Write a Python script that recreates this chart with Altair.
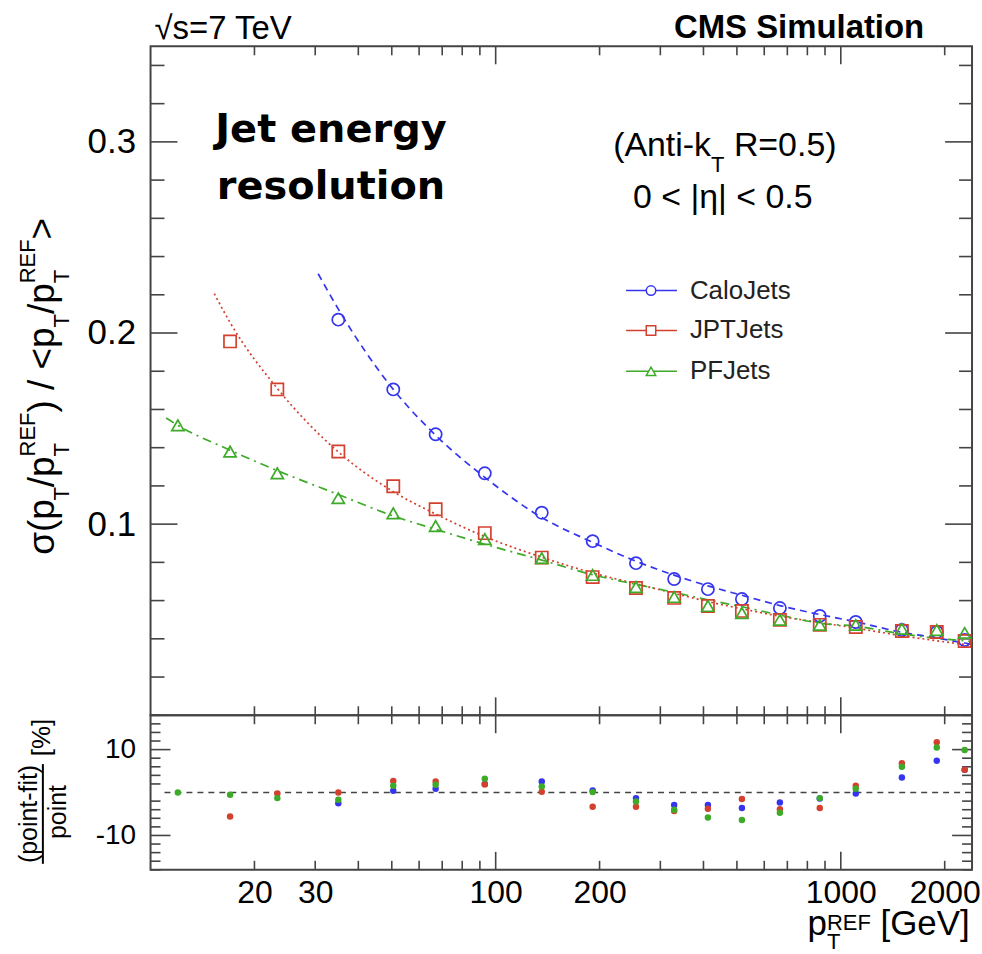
import altair as alt
import pandas as pd

# ---------------- data ----------------
pt_bins = [12, 17, 23.3, 35, 50.5, 67, 93, 136, 191, 255, 329, 412, 517, 666, 869, 1105, 1503, 1897, 2285]

calo_pt = pt_bins[3:]
calo_res = [0.207, 0.1705, 0.147, 0.1266, 0.106, 0.0911, 0.0796, 0.0713, 0.066, 0.0608,
            0.0561, 0.052, 0.0488, 0.0446, 0.0436, 0.0394]
jpt_pt = pt_bins[1:]
jpt_res = [0.1956, 0.1705, 0.138, 0.1198, 0.1078, 0.0953, 0.0825, 0.0723, 0.0666, 0.0614,
           0.0572, 0.0546, 0.0499, 0.0473, 0.0462, 0.0441, 0.0436, 0.0389]
pf_pt = pt_bins
pf_res = [0.1517, 0.138, 0.1266, 0.1136, 0.1057, 0.099, 0.0922, 0.0822, 0.0734, 0.0671,
          0.0619, 0.0572, 0.0535, 0.0499, 0.0473, 0.0473, 0.0452, 0.0446, 0.0431]

# fit curves
calo_fit_x = [30.6, 35, 50.5, 67, 93, 136, 191, 255, 329, 412, 517, 666, 869, 1105, 1503, 1897, 2285, 2400]
calo_fit_y = [0.231, 0.2125, 0.1705, 0.1465, 0.1245, 0.1035, 0.0905, 0.0806, 0.0733, 0.0677,
              0.0628, 0.0574, 0.0527, 0.0489, 0.0434, 0.0405, 0.0378, 0.0372]
jpt_fit_x = [15.3, 17, 23.3, 35, 50.5, 67, 93, 136, 191, 255, 329, 412, 517, 666, 869, 1105, 1503, 1897, 2285, 2400]
jpt_fit_y = [0.2206, 0.2055, 0.171, 0.1378, 0.117, 0.1053, 0.0935, 0.0827, 0.0745, 0.0688,
             0.0638, 0.0595, 0.0557, 0.0518, 0.0485, 0.0456, 0.0416, 0.0390, 0.0370, 0.0365]
pf_fit_x = [11.1, 12, 17, 23.3, 35, 50.5, 67, 93, 136, 191, 255, 329, 412, 517, 666, 869, 1105, 1503, 1897, 2285, 2400]
pf_fit_y = [0.1555, 0.1517, 0.1387, 0.128, 0.1155, 0.1043, 0.0973, 0.0895, 0.0812, 0.0735,
            0.0685, 0.0643, 0.0604, 0.0568, 0.0524, 0.0482, 0.0466, 0.0426, 0.0402, 0.0390, 0.0386]

# residuals (point-fit)/point in %
calo_dev = [-2.5, 0.4, 0.9, 2.0, 2.6, 0.5, -1.3, -2.9, -2.9, -3.6, -2.3, -1.4, -0.2, 3.5, 7.4, 5.3]
jpt_dev = [-5.6, -0.2, 0.0, 2.7, 2.6, 1.9, 0.2, -3.3, -3.3, -4.3, -3.8, -1.5, -3.9, -3.6, 1.6, 6.8, 11.7, 5.3]
pf_dev = [0.0, -0.5, -1.3, -1.7, 1.6, 1.8, 3.2, 1.4, 0.1, -2.1, -4.0, -5.8, -6.4, -4.7, -1.3, 0.9, 6.0, 10.5, 9.9]

series_names = ["CaloJets", "JPTJets", "PFJets"]

# axis ticks / labels
x_label_values = [20, 30, 100, 200, 1000, 2000]
x_minor_ticks = [20, 30, 40, 50, 60, 70, 80, 90, 200, 300, 400, 500, 600, 700, 800, 900, 2000]
x_major_ticks = [100, 1000]
y_top_labels = [0.1, 0.2, 0.3]
y_top_minor = [0.02, 0.04, 0.06, 0.08, 0.12, 0.14, 0.16, 0.18, 0.22, 0.24, 0.26, 0.28, 0.32, 0.34]
res_labels = [-10, 10]
res_minor = [-18, -16, -14, -12, -8, -6, -4, -2, 2, 4, 6, 8, 12, 14, 16, 18]

# ---------------- styling ----------------
FONT = "Liberation Sans"
BLUE, RED, GREEN = "#3535f0", "#d4402e", "#3daa28"
FRAME = "#444444"
W_PLOT, H_TOP, H_BOT = 824, 671, 155
O_TOP = (149, 43)
O_BOT = (149, 714)

DUMMY = pd.DataFrame({"a": [0]})

ADV = {' ': .278, '(': .333, ')': .333, '/': .278, '<': .584, '>': .584, '=': .584, '-': .333,
       '.': .278, 'A': .667, 'E': .667, 'F': .611, 'R': .722, 'T': .611, 'V': .667, 'G': .778,
       'k': .5, 'n': .556, 't': .278, 'i': .222, 'p': .556, 'o': .556, 's': .5, 'e': .556,
       '[': .278, ']': .278, '|': .26, '%': .889, 'f': .278, 'σ': .58}


def tw(s, size):
    return size * sum(ADV.get(c, 0.556) for c in s)


def txt(s, x, y, size, origin, align="left", baseline="alphabetic", weight="normal",
        angle=0, font=FONT, color="#000000"):
    return alt.Chart(DUMMY).mark_text(
        text=s, font=font, fontSize=size, fontWeight=weight, align=align,
        baseline=baseline, angle=angle, color=color
    ).encode(x=alt.value(x - origin[0]), y=alt.value(y - origin[1]))


def hseq(runs, x0, y0, origin):
    out, x = [], x0
    for s, size, dy, adv in runs:
        lead = len(s) - len(s.lstrip())
        if s.strip():
            out.append(txt(s.strip(), x + tw(s[:lead], size), y0 + dy, size, origin))
        x += tw(s, size) if adv is None else adv
    return out


def vseq(runs, x0, y0, origin):
    out, y = [], y0
    for s, size, dx, adv in runs:
        lead = len(s) - len(s.lstrip())
        if s.strip():
            out.append(txt(s.strip(), x0 + dx, y - tw(s[:lead], size), size, origin, angle=270))
        y -= tw(s, size) if adv is None else adv
    return out


xs = alt.Scale(type="log", domain=[10, 2400], nice=False)

X_top = alt.X("x:Q", scale=xs, axis=None)
Y_top = alt.Y("y:Q", scale=alt.Scale(domain=[0, 0.35], nice=False, zero=False),
              axis=alt.Axis(values=y_top_labels, format=".1f", ticks=False, domain=False, grid=False,
                            labelFont=FONT, labelFontSize=35, labelColor="#000", labelPadding=15,
                            title=None))
X_bot = alt.X("x:Q", scale=xs,
              axis=alt.Axis(values=x_label_values, labelExpr="'' + datum.value", ticks=False,
                            domain=False, grid=False, labelFont=FONT, labelFontSize=32,
                            labelColor="#000", labelPadding=8, labelOverlap=False,
                            labelFlush=False, labelBound=False, title=None))
Y_bot = alt.Y("y:Q", scale=alt.Scale(domain=[-18, 18], nice=False, zero=False),
              axis=alt.Axis(values=res_labels, labelExpr="'' + datum.value", ticks=False,
                            domain=False, grid=False, labelFont=FONT, labelFontSize=28,
                            labelColor="#000", labelPadding=15, title=None))


def df(x, y):
    return pd.DataFrame({"x": x, "y": y})


# ---------------- top panel ----------------
top_layers = []
# invisible anchor fixing the page offset of the plot area
top_layers.append(alt.Chart(DUMMY).mark_rule(color="white", strokeWidth=1).encode(
    x=alt.value(-O_TOP[0]), x2=alt.value(-O_TOP[0] + 1), y=alt.value(-O_TOP[1]), y2=alt.value(-O_TOP[1] + 1)))


def xticks(vals, y0, length, enc_x):
    return alt.Chart(pd.DataFrame({"x": vals})).mark_rule(color=FRAME, strokeWidth=1.6).encode(
        x=enc_x, y=alt.value(y0), y2=alt.value(y0 + length))


def yticks(vals, x0, length, enc_y):
    return alt.Chart(pd.DataFrame({"y": vals})).mark_rule(color=FRAME, strokeWidth=1.6).encode(
        y=enc_y, x=alt.value(x0), x2=alt.value(x0 + length))


top_layers += [
    xticks(x_minor_ticks, H_TOP, -9, X_top), xticks(x_major_ticks, H_TOP, -18, X_top),
    xticks(x_minor_ticks, 0, 9, X_top), xticks(x_major_ticks, 0, 18, X_top),
    yticks(y_top_minor, 0, 14, Y_top), yticks(y_top_labels, 0, 27, Y_top),
    yticks(y_top_minor, W_PLOT, -13, Y_top), yticks(y_top_labels, W_PLOT, -27, Y_top),
]

# fits
top_layers.append(alt.Chart(df(calo_fit_x, calo_fit_y)).mark_line(
    color=BLUE, strokeWidth=1.7, strokeDash=[7, 5], interpolate="monotone").encode(x=X_top, y=Y_top))
top_layers.append(alt.Chart(df(jpt_fit_x, jpt_fit_y)).mark_line(
    color=RED, strokeWidth=1.7, strokeDash=[2, 3], interpolate="monotone").encode(x=X_top, y=Y_top))
top_layers.append(alt.Chart(df(pf_fit_x, pf_fit_y)).mark_line(
    color=GREEN, strokeWidth=1.7, strokeDash=[9, 5, 2, 5], interpolate="monotone").encode(x=X_top, y=Y_top))

# points
top_layers.append(alt.Chart(df(calo_pt, calo_res)).mark_point(
    shape="circle", filled=False, size=150, strokeWidth=1.7, color=BLUE, opacity=1).encode(x=X_top, y=Y_top))
top_layers.append(alt.Chart(df(jpt_pt, jpt_res)).mark_point(
    shape="square", filled=False, size=150, strokeWidth=1.7, color=RED, opacity=1).encode(x=X_top, y=Y_top))
top_layers.append(alt.Chart(df(pf_pt, pf_res)).mark_point(
    shape="triangle-up", filled=False, size=150, strokeWidth=1.7, color=GREEN, opacity=1).encode(x=X_top, y=Y_top))

# legend
for name, col, shape, ly in zip(series_names, [BLUE, RED, GREEN], ["circle", "square", "triangle-up"], [288, 328, 369]):
    top_layers.append(alt.Chart(DUMMY).mark_rule(color=col, strokeWidth=1.5).encode(
        x=alt.value(626 - O_TOP[0]), x2=alt.value(677 - O_TOP[0]), y=alt.value(ly - O_TOP[1])))
    top_layers.append(alt.Chart(DUMMY).mark_point(shape=shape, filled=False, size=90, strokeWidth=1.5,
                                                  color=col, opacity=1, fill="white").encode(
        x=alt.value(651 - O_TOP[0]), y=alt.value(ly - O_TOP[1])))
    top_layers.append(txt(name, 690, ly, 26, O_TOP, baseline="middle", color="#222"))

# annotation texts
top_layers.append(txt("√s=7 TeV", 153, 36, 33, O_TOP))
top_layers.append(txt("CMS Simulation", 925, 35, 33, O_TOP, align="right", weight="bold"))
top_layers.append(txt("Jet energy", 330, 139, 40, O_TOP, align="center", weight="bold", font="DejaVu Sans"))
top_layers.append(txt("resolution", 330, 196, 40, O_TOP, align="center", weight="bold", font="DejaVu Sans"))
top_layers += hseq([("(Anti-k", 34, 0, None), ("T", 22, 16, None), (" R=0.5)", 34, 0, None)], 613, 153, O_TOP)
top_layers.append(txt("0 < |η| < 0.5", 723, 205, 34, O_TOP, align="center"))

# y title of the top panel (rotated, built from normal, sub- and superscript pieces)
F, S = 37, 22
ytitle_runs = [("σ(p", F, 0, None), ("T", S, 15, None), ("/p", F, 0, None), ("T", S, 15, 0),
               ("REF", S, -19, None), (") / <p", F, 0, None), ("T", S, 15, None), ("/p", F, 0, None),
               ("T", S, 15, 0), ("REF", S, -19, None), (">", F, 0, None)]
top_layers += vseq(ytitle_runs, 52, 553, O_TOP)

top = alt.layer(*top_layers).properties(width=W_PLOT, height=H_TOP)

# ---------------- bottom panel ----------------
bot_layers = []
bot_layers.append(alt.Chart(pd.DataFrame({"y": [0]})).mark_rule(
    color=FRAME, strokeWidth=1.5, strokeDash=[6, 5]).encode(y=Y_bot, x=alt.value(14), x2=alt.value(W_PLOT)))
bot_layers += [
    xticks(x_minor_ticks, 0, 9, X_bot), xticks(x_major_ticks, 0, 18, X_bot),
    xticks(x_minor_ticks, H_BOT, -9, X_bot), xticks(x_major_ticks, H_BOT, -18, X_bot),
    yticks(res_minor, 0, 10, Y_bot), yticks(res_labels, 0, 20, Y_bot),
    yticks(res_minor, W_PLOT, -10, Y_bot), yticks(res_labels, W_PLOT, -20, Y_bot),
]
bot_layers.append(alt.Chart(df(calo_pt, calo_dev)).mark_circle(size=42, color=BLUE, opacity=1).encode(x=X_bot, y=Y_bot))
bot_layers.append(alt.Chart(df(jpt_pt, jpt_dev)).mark_circle(size=42, color=RED, opacity=1).encode(x=X_bot, y=Y_bot))
bot_layers.append(alt.Chart(df(pf_pt, pf_dev)).mark_circle(size=42, color=GREEN, opacity=1).encode(x=X_bot, y=Y_bot))

# y title of the residual panel: fraction + [%]
bot_layers.append(txt("(point-fit)", 35, 813, 25, O_BOT, align="center", angle=270))
bot_layers.append(txt("point", 64, 811, 25, O_BOT, align="center", angle=270))
bot_layers.append(alt.Chart(DUMMY).mark_rule(color="#000", strokeWidth=2).encode(
    x=alt.value(41 - O_BOT[0]), y=alt.value(763 - O_BOT[1]), y2=alt.value(863 - O_BOT[1])))
bot_layers.append(txt("[%]", 48, 755, 26, O_BOT, angle=270))

# x title
bot_layers += hseq([("p", 35, 0, None), ("T", S, 14, 0), ("REF", S, -5, None), (" [GeV]", 35, 0, None)],
                   808, 934, O_BOT)

bottom = alt.layer(*bot_layers).properties(width=W_PLOT, height=H_BOT)

chart = alt.vconcat(top, bottom, spacing=0, bounds="flush").properties(
    padding={"left": 0, "top": 0, "right": 0, "bottom": 0}, background="white"
).configure_view(stroke=FRAME, strokeWidth=2)

chart.save("out.html", embed_options={"renderer": "svg", "actions": False})
